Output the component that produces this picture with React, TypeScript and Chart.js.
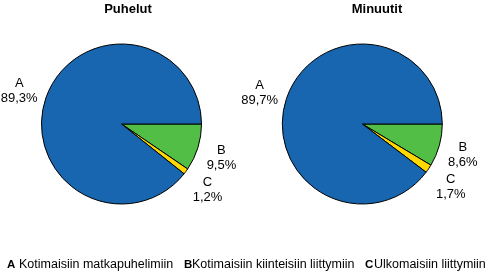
import React, { useEffect, useRef } from "react";
import { Chart, registerables } from "chart.js";

Chart.register(...registerables);

const categories = ["A", "B", "C"];
const categoryNames = [
  "Kotimaisiin matkapuhelimiin",
  "Kotimaisiin kiinteisiin liittymiin",
  "Ulkomaisiin liittymiin",
];
const puhelutValues = [89.3, 9.5, 1.2];
const minuutitValues = [89.7, 8.6, 1.7];
const chartTitles = ["Puhelut", "Minuutit"];

const sliceColors = ["#1866b0", "#52be46", "#ffd800"];
// slices are drawn starting at 3 o'clock clockwise: B, C, then A
const drawOrder = [1, 2, 0];

const FONT = '"Liberation Sans", Arial, sans-serif';

const fmt = (v: number) => v.toFixed(1).replace(".", ",") + "%";

const titlePlugin = {
  id: "pieTitle",
  afterDraw(chart: any) {
    const o = chart.options.plugins.pieTitle;
    if (!o) return;
    const ctx = chart.ctx;
    ctx.save();
    ctx.font = `bold 13px ${FONT}`;
    ctx.fillStyle = "#000";
    ctx.textAlign = "center";
    ctx.textBaseline = "middle";
    ctx.fillText(o.text, o.x, o.y);
    ctx.restore();
  },
};

const labelPlugin = {
  id: "sliceLabels",
  afterDatasetsDraw(chart: any) {
    const ctx = chart.ctx;
    const meta = chart.getDatasetMeta(0);
    const ds = chart.data.datasets[0];
    ctx.save();
    ctx.font = `13px ${FONT}`;
    ctx.fillStyle = "#000";
    ctx.textAlign = "center";
    ctx.textBaseline = "middle";
    meta.data.forEach((arc: any, i: number) => {
      const { x, y, startAngle, endAngle, outerRadius } = arc.getProps(
        ["x", "y", "startAngle", "endAngle", "outerRadius"],
        true
      );
      const mid = (startAngle + endAngle) / 2;
      const ux = Math.cos(mid);
      const uy = Math.sin(mid);
      const l1 = chart.data.labels[i];
      const l2 = fmt(ds.data[i]);
      const w = Math.max(ctx.measureText(l1).width, ctx.measureText(l2).width);
      const lh = 15;
      const h = lh * 2;
      const g = 6;
      const d = outerRadius + g + (w / 2) * Math.abs(ux) + (h / 2) * Math.abs(uy);
      const cx = x + d * ux;
      const cy = y + d * uy + 3;
      ctx.fillText(l1, cx, cy - lh / 2);
      ctx.fillText(l2, cx, cy + lh / 2);
    });
    ctx.restore();
  },
};

function PieCanvas(props: {
  values: number[];
  title: string;
  width: number;
  height: number;
  padding: { left: number; right: number; top: number; bottom: number };
  titleX: number;
}) {
  const ref = useRef<HTMLCanvasElement | null>(null);
  useEffect(() => {
    if (!ref.current) return;
    const chart = new Chart(ref.current, {
      type: "pie",
      data: {
        labels: drawOrder.map((i) => categories[i]),
        datasets: [
          {
            data: drawOrder.map((i) => props.values[i]),
            backgroundColor: drawOrder.map((i) => sliceColors[i]),
            borderColor: "#000",
            borderWidth: 1,
          },
        ],
      },
      options: {
        responsive: false,
        animation: false,
        rotation: 90,
        layout: { padding: props.padding },
        plugins: {
          legend: { display: false },
          tooltip: { enabled: false },
          title: { display: false },
          pieTitle: { text: props.title, x: props.titleX, y: 9 },
        } as any,
      },
      plugins: [titlePlugin, labelPlugin],
    });
    return () => chart.destroy();
  }, []);
  return (
    <canvas
      ref={ref}
      width={props.width}
      height={props.height}
      style={{ display: "block", width: props.width, height: props.height }}
    />
  );
}

export default function App() {
  const letterLeft = [7, 184, 365];
  const textLeft = [19, 192, 374];
  return (
    <div
      style={{
        position: "fixed",
        left: 0,
        top: 0,
        width: 493,
        height: 273,
        background: "#fff",
        overflow: "hidden",
      }}
    >
      <div style={{ position: "absolute", left: 0, top: 0 }}>
        <PieCanvas
          values={puhelutValues}
          title={chartTitles[0]}
          width={236}
          height={273}
          padding={{ left: 41, right: 34, top: 43.5, bottom: 68.5 }}
          titleX={128}
        />
      </div>
      <div style={{ position: "absolute", left: 230, top: 0 }}>
        <PieCanvas
          values={minuutitValues}
          title={chartTitles[1]}
          width={263}
          height={273}
          padding={{ left: 51.8, right: 50.2, top: 43.5, bottom: 68.5 }}
          titleX={147}
        />
      </div>
      {categories.map((c, i) => (
        <React.Fragment key={c}>
          <div
            style={{
              position: "absolute",
              left: letterLeft[i],
              top: 256,
              font: `bold 11.5px ${FONT}`,
              lineHeight: "16px",
              color: "#000",
            }}
          >
            {c}
          </div>
          <div
            style={{
              position: "absolute",
              left: textLeft[i],
              top: 256,
              font: `12.5px ${FONT}`,
              lineHeight: "16px",
              whiteSpace: "nowrap",
              color: "#000",
            }}
          >
            {categoryNames[i]}
          </div>
        </React.Fragment>
      ))}
    </div>
  );
}
